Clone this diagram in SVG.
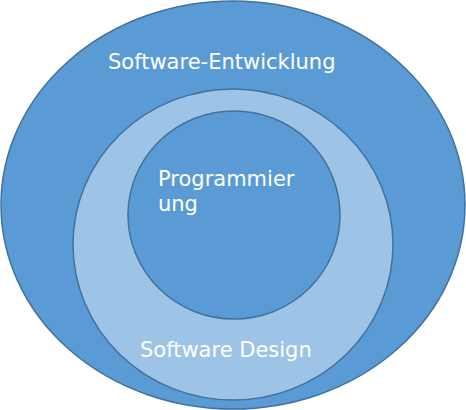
<svg xmlns="http://www.w3.org/2000/svg" width="466" height="410" viewBox="0 0 466 410">
<style>
.shape{stroke:#41719C;stroke-width:1.5}
.dark{fill:#5B9BD5}
.light{fill:#9DC3E6}
text{font-family:"DejaVu Sans","Verdana",sans-serif;font-size:21px;fill:#FFFFFF}
</style>
<rect width="466" height="410" fill="#FFFFFF"/>
<g id="software-entwicklung">
<ellipse class="shape dark" cx="233" cy="205" rx="232" ry="204"/>
<text x="108" y="69">Software-Entwicklung</text>
</g>
<g id="software-design">
<ellipse class="shape light" cx="233" cy="244.5" rx="160" ry="155.5"/>
<text x="140" y="357">Software Design</text>
</g>
<g id="programmierung">
<ellipse class="shape dark" cx="234" cy="215" rx="106" ry="104"/>
<text x="158" y="186">Programmier</text>
<text x="158" y="211">ung</text>
</g>
<g id="connectors"/>
</svg>
